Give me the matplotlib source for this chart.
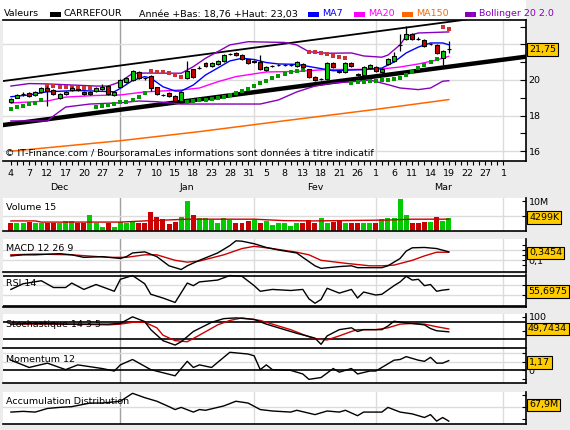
import matplotlib
matplotlib.use("Agg")
import matplotlib.pyplot as plt
from matplotlib.patches import Rectangle

plt.rcParams['font.family'] = 'DejaVu Sans'
FS = 6.8

# ---------------- data (trading-day index 0 = 4 Dec) ----------------
opens = [18.78, 19.01, 19.20, 19.25, 19.16, 19.31, 19.57, 19.44, 19.01, 19.20,
         19.42, 19.47, 19.31, 19.33, 19.40, 19.48, 19.68, 19.14, 19.62, 19.90,
         20.00, 20.43, 20.11, 20.22, 19.59, 19.17, 19.29, 19.10, 18.84, 20.10,
         20.60, 20.70, 20.97, 20.79, 20.88, 21.07, 21.47, 21.50, 21.42, 21.16,
         21.04, 21.03, 20.56, 20.80, 20.85, 20.85, 20.85, 20.80, 20.90, 20.60,
         20.15, 20.05, 20.04, 20.94, 20.48, 20.47, 20.96, 20.31, 20.26, 20.67,
         20.71, 20.45, 20.90, 21.08, 21.99, 22.32, 22.60, 22.33, 22.23, 22.05,
         21.98, 21.24, 21.72]
closes = [18.93, 19.16, 19.22, 19.12, 19.31, 19.57, 19.38, 19.20, 19.21, 19.34,
          19.57, 19.45, 19.20, 19.21, 19.53, 19.62, 19.23, 19.33, 20.00, 20.13,
          20.51, 20.10, 20.09, 19.53, 19.21, 19.15, 19.10, 18.84, 19.34, 20.51,
          20.19, 20.68, 20.79, 20.94, 21.07, 21.40, 21.45, 21.39, 21.20, 20.94,
          21.02, 20.60, 20.75, 20.78, 20.83, 20.83, 20.83, 20.99, 20.71, 20.15,
          20.00, 20.03, 20.94, 20.75, 20.46, 20.94, 20.77, 20.29, 20.71, 20.86,
          20.52, 20.63, 21.18, 21.37, 21.97, 22.60, 22.32, 22.31, 21.89, 22.03,
          21.52, 21.61, 21.75]
highs = [18.98, 19.22, 19.30, 19.30, 19.36, 19.62, 19.68, 19.48, 19.26, 19.40,
         19.62, 19.52, 19.36, 19.38, 19.58, 19.75, 19.72, 19.38, 20.05, 20.18,
         20.56, 20.48, 20.18, 20.26, 19.63, 19.22, 19.34, 19.14, 19.38, 21.07,
         20.64, 20.76, 21.01, 20.99, 21.12, 21.45, 21.54, 21.55, 21.47, 21.20,
         21.10, 21.40, 20.80, 20.86, 20.92, 20.92, 20.92, 21.04, 20.94, 20.64,
         20.20, 20.10, 20.99, 20.99, 20.55, 20.99, 21.01, 20.38, 20.76, 20.91,
         20.76, 20.68, 21.23, 21.60, 22.58, 23.03, 22.65, 22.40, 22.28, 22.10,
         22.03, 21.66, 22.21]
lows = [18.72, 18.97, 19.12, 19.06, 19.10, 19.26, 18.55, 19.15, 18.95, 19.15,
        19.38, 19.40, 19.15, 19.16, 19.35, 19.44, 19.18, 19.08, 19.58, 19.85,
        19.95, 20.05, 20.02, 19.40, 19.16, 19.10, 19.05, 18.80, 18.80, 20.05,
        20.14, 20.62, 20.74, 20.74, 20.83, 21.02, 21.40, 21.34, 21.15, 20.90,
        20.96, 20.55, 20.51, 20.72, 20.78, 20.78, 20.78, 20.75, 20.66, 20.10,
        19.95, 19.98, 19.99, 20.70, 20.40, 20.42, 20.72, 20.24, 20.21, 20.62,
        20.47, 20.40, 20.85, 21.03, 21.63, 22.27, 22.27, 22.25, 21.84, 21.97,
        21.47, 20.86, 21.52]
prev_close_first = 19.05   # close before 4 Dec (sets colour of the first volume bar)

sar = [18.37, 18.50, 18.56, 18.63, 18.72, 18.88,
       19.68, 19.66, 19.63, 19.61, 19.59, 19.57, 19.55, 19.53,
       18.50, 18.56, 18.60, 18.65, 18.74, 18.79, 18.88, 19.06, 19.25,
       20.52, 20.47, 20.43, 20.38, 20.28, 20.15,
       18.78, 18.84, 18.88, 18.88, 18.93, 18.97, 19.06, 19.16, 19.25, 19.38,
       19.48, 19.66, 19.81, 19.94, 20.10, 20.22, 20.34, 20.45, 20.51, 20.56,
       21.56, 21.56, 21.50, 21.44, 21.35, 21.28, 21.21,
       19.83, 19.89, 19.89, 19.93, 19.96, 19.98, 20.02, 20.07, 20.11, 20.26,
       20.45, 20.67, 20.83, 21.01, 21.18,
       22.98, 22.89]
sar_up = ([True] * 6 + [False] * 8 + [True] * 9 + [False] * 6 + [True] * 20
          + [False] * 7 + [True] * 15 + [False] * 2)

ma7_x = [0, 3, 6, 11, 16, 17, 18, 20, 22, 23, 25, 27, 28, 30, 32, 34, 36, 38,
         40, 42, 44, 47, 50, 53, 56, 58, 61, 63, 65, 67, 69, 71, 72]
ma7_y = [19.06, 19.16, 19.34, 19.41, 19.35, 19.34, 19.53, 19.97, 20.19, 20.11,
         19.62, 19.38, 19.38, 19.72, 20.28, 20.67, 21.07, 21.22, 21.15, 20.98,
         20.90, 20.88, 20.70, 20.52, 20.56, 20.58, 20.67, 21.01, 21.52, 21.85,
         22.08, 22.08, 21.98]

ma20_x = [0, 6, 9, 14, 18, 22, 28, 31, 34, 37, 42, 47, 52, 56, 61, 64, 67, 70, 72]
ma20_y = [18.71, 18.82, 19.04, 19.13, 19.16, 19.33, 19.44, 19.55, 19.90, 20.19,
          20.45, 20.48, 20.59, 20.59, 20.62, 20.73, 20.90, 21.12, 21.33]

boll_up_x = [0, 3, 6, 14, 16, 18, 20, 22, 28, 30, 32, 34, 36, 39, 45, 47, 49,
             52, 56, 58, 61, 62, 64, 65, 67, 72]
boll_up_y = [19.66, 19.80, 19.78, 19.66, 19.66, 19.90, 20.37, 20.39, 20.38,
             20.75, 21.22, 21.59, 21.97, 22.15, 22.11, 21.97, 21.59, 21.50,
             21.52, 21.35, 21.28, 21.40, 21.98, 22.46, 22.64, 22.70]
boll_lo_x = [0, 6, 7, 9, 13, 18, 21, 24, 28, 36, 41, 44, 47, 50, 53, 56, 59,
             62, 64, 67, 69, 71, 72]
boll_lo_y = [17.70, 17.70, 17.98, 18.48, 18.65, 18.72, 18.82, 18.78, 18.65,
             18.65, 18.65, 18.88, 19.33, 19.66, 19.83, 19.90, 20.00, 19.74,
             19.55, 19.46, 19.55, 19.93, 19.96]

ma150_x = [0, 18, 31, 45, 60, 72]
ma150_y = [16.00, 16.59, 17.10, 17.71, 18.35, 18.90]

# drawn trend channel (index, price)
chan_hi_x = [-1.3, 84.7]
chan_hi_y = [19.94, 23.84]
chan_lo_x = [-1.3, 84.7]
chan_lo_y = [17.47, 21.31]

volume = [2.6, 2.6, 2.6, 3.0, 2.6, 2.6, 2.6, 2.6, 2.6, 3.3,
          3.3, 2.6, 2.6, 5.2, 2.6, 1.3, 2.6, 1.3, 3.0, 2.6,
          3.0, 2.6, 2.6, 6.3, 4.6, 3.8, 2.3, 3.0, 4.6, 10.1,
          5.2, 4.2, 4.2, 3.5, 2.6, 4.2, 3.5, 2.6, 2.6, 3.3,
          3.6, 2.6, 3.2, 1.8, 2.6, 2.6, 1.5, 2.6, 2.6, 3.7,
          2.6, 4.2, 2.6, 3.0, 3.3, 2.6, 2.6, 2.6, 2.6, 2.6,
          2.6, 3.8, 4.2, 4.2, 10.7, 5.5, 2.6, 2.6, 3.0, 2.8,
          4.7, 3.3, 4.4]
vol_ma_x = [0, 4, 5, 18, 22, 29, 40, 45, 50, 62, 66, 72]
vol_ma_y = [3.3, 3.3, 2.9, 2.9, 3.3, 3.9, 3.9, 3.4, 3.3, 3.6, 3.9, 3.9]

macd_x = [0, 2, 4, 8, 10, 12, 15, 18, 19, 20, 22, 24, 26, 28, 29, 31, 34, 36,
          37, 38, 40, 42, 44, 47, 48, 50, 51, 54, 56, 57, 60, 61, 62, 64, 65,
          66, 68, 70, 72]
macd_y = [0.228, 0.26, 0.26, 0.293, 0.26, 0.186, 0.207, 0.154, 0.207, 0.314,
          0.346, 0.207, -0.06, -0.168, -0.06, 0.1, 0.314, 0.528, 0.667, 0.656,
          0.582, 0.474, 0.4, 0.314, 0.186, -0.06, -0.135, -0.082, -0.06, -0.114,
          -0.114, -0.114, -0.06, 0.154, 0.368, 0.464, 0.474, 0.442, 0.346]
sig_x = [0, 4, 10, 16, 19, 22, 24, 27, 29, 31, 35, 38, 40, 43, 47, 49, 51, 55,
         59, 61, 63, 66, 68, 70, 72]
sig_y = [0.26, 0.282, 0.26, 0.186, 0.186, 0.26, 0.26, 0.1, 0.047, 0.079, 0.26,
         0.442, 0.507, 0.442, 0.335, 0.26, 0.1, 0.014, -0.06, -0.06, -0.039,
         0.1, 0.228, 0.335, 0.335]

rsi_x = [0, 2, 5, 7, 9, 10, 12, 14, 17, 18, 20, 22, 23, 25, 27, 29, 30, 31,
         34, 36, 38, 40, 41, 43, 46, 48, 49, 50, 51, 52, 54, 56, 57, 58, 60,
         61, 63, 64, 65, 66, 67, 68, 69, 70, 71, 72]
rsi_y = [51.9, 59.3, 63.2, 54.4, 54.4, 60.2, 51.9, 58.3, 49.5, 65.1, 70.0,
         59.3, 45.6, 40.7, 34.9, 60.2, 56.8, 61.7, 64.1, 70.0, 69.0, 56.8,
         49.5, 51.9, 50.5, 51.9, 39.7, 33.9, 38.8, 53.4, 47.1, 51.9, 40.7,
         48.5, 44.6, 45.6, 56.8, 61.7, 69.0, 64.1, 65.1, 56.8, 58.3, 49.5,
         51.0, 51.9]

stk_x = [0, 4, 10, 16, 18, 20, 22, 23, 25, 27, 28, 30, 33, 35, 37, 40, 42, 44,
         47, 50, 51, 52, 54, 56, 57, 58, 61, 62, 63, 65, 67, 68, 69, 70, 72]
stk_y = [74.1, 76.7, 74.1, 74.1, 76.7, 100, 83.2, 54.6, 15.6, 0, 11.7, 48.1,
         80.6, 93.6, 96.2, 91.0, 74.1, 61.1, 41.6, 24.7, 2.6, 32.5, 54.6, 61.1,
         48.1, 54.6, 54.6, 67.6, 84.5, 78.0, 74.1, 71.5, 58.5, 50.7, 46.8]
std_x = [0, 10, 16, 18, 20, 22, 24, 25, 27, 29, 31, 34, 36, 38, 41, 43, 46, 48,
         50, 52, 54, 56, 57, 60, 62, 64, 66, 68, 70, 72]
std_y = [74.1, 74.1, 71.5, 74.1, 80.6, 80.6, 61.1, 35.1, 15.6, 11.7, 35.1, 71.5,
         87.1, 96.2, 87.1, 74.1, 54.6, 37.7, 22.1, 18.2, 32.5, 48.1, 54.6, 54.6,
         61.1, 74.1, 76.7, 74.1, 65.0, 57.2]

mom_x = [0, 3, 6, 9, 11, 15, 17, 18, 20, 23, 27, 29, 30, 31, 33, 34, 36, 39,
         40, 41, 42, 43, 46, 48, 49, 51, 53, 54, 56, 57, 59, 60, 63, 64, 65,
         67, 68, 69, 70, 71, 72]
mom_y = [1.17, 0.33, 0.83, 0.08, 0.63, 0.21, -0.08, 0.63, 1.25, 0.08, -0.63,
         1.04, 0.33, 0.63, 0.33, 0.92, 2.08, 1.88, 1.67, 0.08, 0.63, 0.08, 0.0,
         -0.42, -1.04, -0.83, 0.21, -0.21, 0.21, -0.42, -0.08, -0.08, 1.17,
         1.25, 1.58, 1.17, 1.04, 1.5, 0.83, 0.83, 1.12]

ad_x = [0, 2, 4, 6, 8, 10, 13, 15, 18, 20, 22, 24, 26, 27, 28, 30, 31, 32, 35,
        37, 39, 41, 43, 46, 47, 50, 52, 54, 55, 57, 58, 61, 62, 64, 66, 68, 69,
        70, 71, 72]
ad_y = [75.4, 76.0, 75.4, 78.4, 79.3, 79.9, 82.9, 82.9, 84.4, 91.0, 87.4, 84.4,
        79.9, 77.5, 79.3, 75.4, 77.5, 76.9, 80.5, 84.4, 82.9, 77.5, 76.3, 75.4,
        76.9, 73.3, 76.3, 75.4, 76.9, 72.4, 75.4, 75.4, 79.3, 75.4, 73.9, 70.9,
        73.3, 67.9, 70.9, 67.9]

day_ticks = [0, 3, 6, 9, 12, 15, 18, 21, 24, 27, 30, 33, 36, 39, 42, 45, 48, 51,
             54, 57, 60, 63, 66, 69, 72, 75, 78, 81]
day_labels = ['4', '7', '12', '17', '20', '27', '2', '7', '10', '15', '18', '23',
              '28', '31', '5', '8', '13', '18', '21', '26', '1', '6', '11', '14',
              '19', '22', '27', '1']
month_pos = [8, 29, 50, 71]
month_names = ['Dec', 'Jan', 'Fev', 'Mar']
month_starts = [18, 40, 60, 81]

XMIN, XMAX = -1.3, 84.7
W, H = 570, 430
GREEN, RED = '#00CC00', '#CC0000'

fig = plt.figure(figsize=(W / 100, H / 100), dpi=100)
fig.patch.set_facecolor('#ECECEC')


def px_axes(x0, y0, x1, y1):
    ax = fig.add_axes([x0 / W, 1 - y1 / H, (x1 - x0) / W, (y1 - y0) / H])
    ax.set_facecolor('white')
    ax.spines['left'].set_visible(False)
    ax.spines['top'].set_visible(False)
    for s in ('bottom', 'right'):
        ax.spines[s].set_color('black')
        ax.spines[s].set_linewidth(1.2)
    ax.set_xlim(XMIN, XMAX)
    ax.set_xticks([])
    ax.yaxis.tick_right()
    ax.tick_params(axis='y', which='both', direction='in', length=3, width=0.8,
                   labelsize=FS, pad=2)
    for k, m in enumerate(month_starts):
        ax.axvline(m, color='#A0A0A0' if k == 0 else '#DCDCDC', lw=1, zorder=0)
    return ax


def fig_text(x, y, s, **kw):
    kw.setdefault('fontsize', FS)
    kw.setdefault('va', 'center')
    fig.text(x / W, 1 - y / H, s, **kw)


def value_box(x, y, s):
    fig_text(x, y, s, zorder=10,
             bbox=dict(boxstyle='square,pad=0.2', fc='#FFCC00', ec='black', lw=0.8))


# header band
fig.add_artist(Rectangle((0, 1 - 20 / H), 526 / W, 20 / H, transform=fig.transFigure,
                         fc='white', ec='none', zorder=0))
fig_text(4, 14, 'Valeurs')
fig_text(64, 14, 'CARREFOUR')
fig_text(139, 14, 'Année +Bas: 18,76 +Haut: 23,03')
legend_items = [(50, 'black', ''), (308, '#0000FF', 'MA7'),
                (354, '#FF00FF', 'MA20'), (402, '#FF6600', 'MA150'),
                (465, '#8800BB', 'Bollinger 20 2.0')]
for lx, col, lab in legend_items:
    fig.add_artist(Rectangle((lx / W, 1 - 17 / H), 11 / W, 5 / H,
                             transform=fig.transFigure, fc=col, ec='none'))
    if lab:
        fig_text(lx + 14, 14, lab, color=col)

# ---------------- main price panel ----------------
ax = px_axes(3, 20, 526, 161)
ax.spines['top'].set_visible(True)
ax.spines['top'].set_linewidth(1.2)
ax.set_ylim(15.45, 23.37)
ax.set_yticks([16, 18, 20, 22])
ax.set_yticklabels(['16', '18', '20', ''])
ax.set_yticks([17, 19, 21, 23], minor=True)
ax.tick_params(axis='y', which='both', length=4)
for v in [16, 18, 20, 22]:
    ax.axhline(v, color='#DCDCDC', lw=1, zorder=0)

ax.set_xticks(day_ticks)
ax.set_xticklabels(day_labels, fontsize=FS)
ax.set_xticks(range(0, 82), minor=True)
ax.tick_params(axis='x', which='both', direction='out', length=3, width=0.8,
               pad=2.5)

ax.plot(ma150_x, ma150_y, color='#FF6600', lw=1.1, zorder=2)
ax.plot(chan_hi_x, chan_hi_y, color='black', lw=1.3, zorder=2)
ax.plot(chan_lo_x, chan_lo_y, color='black', lw=3.2, zorder=2)
ax.plot(boll_up_x, boll_up_y, color='#8800BB', lw=1, zorder=3)
ax.plot(boll_lo_x, boll_lo_y, color='#8800BB', lw=1, zorder=3)
ax.plot(ma20_x, ma20_y, color='#FF00FF', lw=1, zorder=3)
ax.plot(ma7_x, ma7_y, color='#0000FF', lw=1, zorder=3)

days = list(range(len(closes)))
sx_up = [d for d in days if sar_up[d]]
sx_dn = [d for d in days if not sar_up[d]]
ax.plot(sx_up, [sar[d] for d in sx_up], 's', color='#009900', ms=2.4, mew=0, zorder=4)
ax.plot(sx_dn, [sar[d] for d in sx_dn], 's', color='#CC3333', ms=2.4, mew=0, zorder=4)

ax.vlines(days, lows, highs, color='black', lw=0.9, zorder=5)
bottoms = [min(o, c) for o, c in zip(opens, closes)]
heights = [max(abs(c - o), 0.005) for o, c in zip(opens, closes)]
colors = [GREEN if c >= o else RED for o, c in zip(opens, closes)]
ax.bar(days, heights, bottom=bottoms, width=0.65, color=colors,
       edgecolor='black', linewidth=0.8, zorder=6)

ax.text(0.004, 0.05, '© IT-Finance.com / BoursoramaLes informations sont données à titre indicatif',
        transform=ax.transAxes, fontsize=FS, va='center', zorder=7)
value_box(529, 49.5, '21,75')

for d, name in zip(month_pos, month_names):
    fig_text(3 + (d - XMIN) / (XMAX - XMIN) * 523, 188, name, ha='center')

# ---------------- volume ----------------
av = px_axes(3, 198, 526, 230.5)
av.set_ylim(0, 11.2)
av.set_yticks([5, 10])
av.set_yticklabels(['', '10M'])
av.axhline(5, color='#DCDCDC', lw=1, zorder=0)
prev = [prev_close_first] + closes[:-1]
vcol = [GREEN if c >= p else RED for c, p in zip(closes, prev)]
av.bar(days, volume, width=0.82, color=vcol, zorder=2)
av.plot(vol_ma_x, vol_ma_y, color='#CC0000', lw=1, zorder=3)
av.text(0.005, 0.7, 'Volume 15', transform=av.transAxes, fontsize=FS, va='center')
value_box(529, 217.5, '4299K')

# ---------------- MACD ----------------
am = px_axes(3, 239, 526, 272)
am.set_ylim(-0.24, 0.72)
am.set_yticks([-0.05, 0.1, 0.25, 0.4, 0.55])
am.set_yticklabels(['', '0,1', '', '', ''])
for v in [0.1, 0.4]:
    am.axhline(v, color='#DCDCDC', lw=1, zorder=0)
am.plot(sig_x, sig_y, color='#CC0000', lw=1, zorder=2)
am.plot(macd_x, macd_y, color='black', lw=1, zorder=3)
am.text(0.005, 0.7, 'MACD 12 26 9', transform=am.transAxes, fontsize=FS, va='center')
value_box(529, 253, '0,3454')

# ---------------- RSI ----------------
ar = px_axes(3, 274, 526, 307)
ar.set_ylim(29.0, 72.0)
ar.set_yticks([45, 58])
ar.set_yticklabels([])
for v in [45, 58]:
    ar.axhline(v, color='#DCDCDC', lw=1, zorder=0)
for v in [30, 70]:
    ar.axhline(v, color='black', lw=1.2, zorder=1)
ar.plot(rsi_x, rsi_y, color='black', lw=1, zorder=3)
ar.text(0.005, 0.7, 'RSI 14', transform=ar.transAxes, fontsize=FS, va='center')
value_box(528, 291.5, '55,6975')

# ---------------- Stochastic ----------------
ast = px_axes(3, 314, 526, 348)
ast.set_ylim(-10.4, 110)
ast.set_yticks([100, 50])
ast.set_yticklabels(['100', ''])
for v in [20, 80]:
    ast.axhline(v, color='black', lw=1.2, zorder=1)
ast.plot(std_x, std_y, color='#CC0000', lw=1, zorder=2)
ast.plot(stk_x, stk_y, color='black', lw=1, zorder=3)
ast.text(0.005, 0.68, 'Stochastique 14 3 5', transform=ast.transAxes, fontsize=FS,
         va='center')
value_box(528, 329, '49,7434')

# ---------------- Momentum ----------------
amo = px_axes(3, 349, 526, 383)
amo.set_ylim(-1.46, 2.46)
amo.set_yticks([-1, 0, 1, 2])
amo.set_yticklabels(['', '0', '', ''])
amo.axhline(0, color='black', lw=1.2, zorder=1)
for v in [1, 2]:
    amo.axhline(v, color='#DCDCDC', lw=1, zorder=0)
amo.plot(mom_x, mom_y, color='black', lw=1, zorder=3)
amo.text(0.005, 0.7, 'Momentum 12', transform=amo.transAxes, fontsize=FS, va='center')
value_box(529, 362.5, '1,17')

# ---------------- Accumulation Distribution ----------------
aa = px_axes(3, 391.5, 526, 424)
aa.set_ylim(65.5, 92.5)
aa.set_yticks([70, 80, 90])
aa.set_yticklabels([])
aa.axhline(80, color='#DCDCDC', lw=1, zorder=0)
aa.plot(ad_x, ad_y, color='black', lw=1, zorder=3)
aa.text(0.005, 0.7, 'Accumulation Distribution', transform=aa.transAxes, fontsize=FS,
        va='center')
value_box(529, 405, '67,9M')

fig.savefig('out.png', dpi=100, facecolor=fig.get_facecolor())
